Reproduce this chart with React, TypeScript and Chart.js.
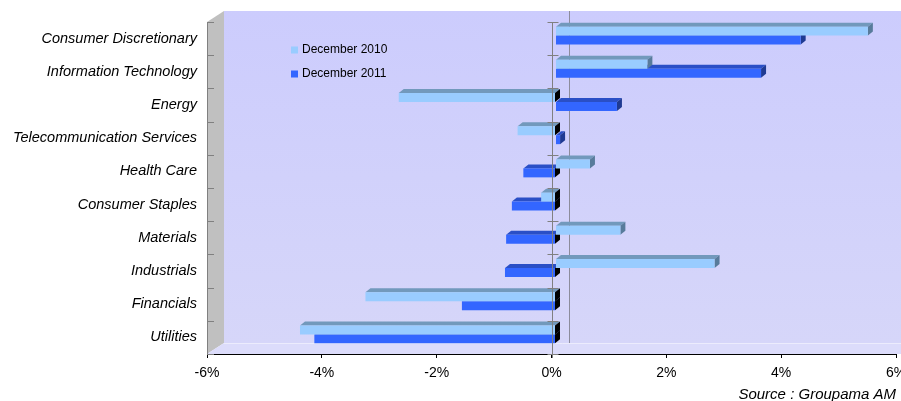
import React, { useEffect, useRef } from "react";
import { Chart, registerables } from "chart.js";

Chart.register(...registerables);

const categories = [
  "Consumer Discretionary",
  "Information Technology",
  "Energy",
  "Telecommunication Services",
  "Health Care",
  "Consumer Staples",
  "Materials",
  "Industrials",
  "Financials",
  "Utilities",
];
const seriesNames = ["December 2010", "December 2011"];
const dec2010 = [5.44, 1.6, -2.73, -0.66, 0.6, -0.25, 1.13, 2.77, -3.31, -4.45];
const dec2011 = [4.27, 3.58, 1.07, 0.08, -0.56, -0.76, -0.86, -0.88, -1.63, -4.2];
const xTickValues = [-6, -4, -2, 0, 2, 4, 6];
const sourceText = "Source : Groupama AM";

const FRONT = ["#99ccff", "#3366ff"];
const TOP = ["#7299bc", "#2a4fc6"];
const SIDE = ["#587b9b", "#1f3a92"];
const FACE = { dx: 5, dy: 4 };
const BAR_SHIFT = { x: 4, y: -3 };
const WALL = { x: 17, y: -11 };
const FONT = "Arial, 'Liberation Sans', sans-serif";

function poly(ctx: CanvasRenderingContext2D, pts: number[][], fill: string) {
  ctx.beginPath();
  ctx.moveTo(pts[0][0], pts[0][1]);
  for (let i = 1; i < pts.length; i++) ctx.lineTo(pts[i][0], pts[i][1]);
  ctx.closePath();
  ctx.fillStyle = fill;
  ctx.fill();
}

const scenePlugin = {
  id: "scene3d",
  beforeDraw(chart: any) {
    const { ctx, chartArea: a, width } = chart;
    ctx.save();
    ctx.fillStyle = "#ffffff";
    ctx.fillRect(0, 0, chart.width, chart.height);
    const bl = a.left + WALL.x;
    const bt = a.top + WALL.y;
    const bb = a.bottom + WALL.y;
    const g = ctx.createLinearGradient(0, bt, 0, bb);
    g.addColorStop(0, "#ccccfd");
    g.addColorStop(1, "#d6d6f9");
    ctx.fillStyle = g;
    ctx.fillRect(bl, bt, width - bl, bb - bt);
    poly(ctx, [[a.left, a.top], [bl, bt], [bl, bb], [a.left, a.bottom]], "#c0c0c0");
    poly(ctx, [[a.left, a.bottom], [bl, bb], [width, bb], [width, a.bottom]], "#dcdcfb");
    ctx.strokeStyle = "#ececfd";
    ctx.lineWidth = 1;
    ctx.beginPath();
    ctx.moveTo(bl, bb + 0.5);
    ctx.lineTo(width, bb + 0.5);
    ctx.stroke();
    const x0 = Math.round(chart.scales.x.getPixelForValue(0) + WALL.x) + 0.5;
    ctx.strokeStyle = "#8c8c9c";
    ctx.beginPath();
    ctx.moveTo(x0, bt);
    ctx.lineTo(x0, bb);
    ctx.stroke();
    ctx.restore();
  },
  beforeDatasetsDraw(chart: any) {
    const ctx = chart.ctx;
    ctx.save();
    ctx.translate(BAR_SHIFT.x, BAR_SHIFT.y);
    const n = chart.data.datasets.length;
    for (let di = n - 1; di >= 0; di--) {
      const ds = chart.data.datasets[di];
      const meta = chart.getDatasetMeta(di);
      meta.data.forEach((el: any, i: number) => {
        const { x, y, base, height } = el.getProps(["x", "y", "base", "height"], true);
        const v = ds.data[i];
        const yt = y - height / 2;
        const yb = y + height / 2;
        const L = Math.min(x, base);
        const R = Math.max(x, base);
        poly(ctx, [[L, yt], [L + FACE.dx, yt - FACE.dy], [R + FACE.dx, yt - FACE.dy], [R, yt]], TOP[di]);
        poly(ctx, [[R, yt], [R + FACE.dx, yt - FACE.dy], [R + FACE.dx, yb - FACE.dy], [R, yb]], v < 0 ? "#000000" : SIDE[di]);
      });
    }
  },
  afterDatasetsDraw(chart: any) {
    const { ctx, chartArea: a } = chart;
    ctx.restore();
    ctx.save();
    const ys = chart.scales.y;
    const xs = chart.scales.x;
    ctx.strokeStyle = "#808080";
    ctx.lineWidth = 1;
    const lx = a.left + 0.5;
    ctx.beginPath();
    ctx.moveTo(lx, a.top);
    ctx.lineTo(lx, a.bottom);
    ctx.stroke();
    const zx = Math.round(xs.getPixelForValue(0)) + 0.5;
    ctx.beginPath();
    ctx.moveTo(zx, a.top);
    ctx.lineTo(zx, a.bottom + 4);
    ctx.stroke();
    for (let i = 0; i <= categories.length; i++) {
      const py = Math.round(ys.getPixelForValue(i - 0.5)) + 0.5;
      ctx.beginPath();
      ctx.moveTo(a.left, py);
      ctx.lineTo(a.left + 7, py);
      ctx.moveTo(zx - 5, py);
      ctx.lineTo(zx + 6, py);
      ctx.stroke();
    }
    ctx.restore();
  },
  afterDraw(chart: any) {
    const ctx = chart.ctx;
    ctx.save();
    chart.data.datasets.forEach((ds: any, i: number) => {
      const cy = 50 + i * 24;
      ctx.fillStyle = ds.backgroundColor;
      ctx.fillRect(291, cy - 3.5, 7, 7);
      ctx.fillStyle = "#000";
      ctx.font = `12px ${FONT}`;
      ctx.textAlign = "left";
      ctx.textBaseline = "middle";
      ctx.fillText(ds.label, 302, cy);
    });
    ctx.font = `italic 15px ${FONT}`;
    ctx.textAlign = "right";
    ctx.textBaseline = "alphabetic";
    ctx.fillStyle = "#000";
    ctx.fillText(sourceText, 896, 399);
    ctx.restore();
  },
};

export default function App() {
  const ref = useRef<HTMLCanvasElement | null>(null);
  useEffect(() => {
    if (!ref.current) return;
    const chart = new Chart(ref.current, {
      type: "bar",
      data: {
        labels: categories,
        datasets: [
          { label: seriesNames[0], data: dec2010, backgroundColor: FRONT[0], borderWidth: 0 },
          { label: seriesNames[1], data: dec2011, backgroundColor: FRONT[1], borderWidth: 0 },
        ],
      },
      options: {
        indexAxis: "y",
        responsive: false,
        animation: false,
        events: [],
        layout: { padding: { top: 22, right: 5, left: 0, bottom: 0 } },
        datasets: { bar: { categoryPercentage: 0.54, barPercentage: 1 } },
        plugins: { legend: { display: false }, tooltip: { enabled: false } },
        scales: {
          x: {
            type: "linear",
            min: xTickValues[0],
            max: xTickValues[xTickValues.length - 1],
            afterBuildTicks: (s: any) => {
              s.ticks = xTickValues.map((v) => ({ value: v }));
            },
            afterFit: (s: any) => {
              s.height = 47;
              s.paddingLeft = 0;
              s.paddingRight = 0;
            },
            border: { display: true, color: "#000", width: 1 },
            grid: { drawOnChartArea: false, drawTicks: true, tickLength: 4, tickColor: "#000" },
            ticks: {
              callback: (v: any) => `${v}%`,
              color: "#000",
              padding: 7,
              maxRotation: 0,
              autoSkip: false,
              font: { family: FONT, size: 14 },
            },
          },
          y: {
            type: "category",
            afterFit: (s: any) => {
              s.width = 207;
              s.paddingTop = 0;
              s.paddingBottom = 0;
            },
            border: { display: false },
            grid: { display: false, drawTicks: false },
            ticks: {
              color: "#000",
              padding: 10,
              autoSkip: false,
              font: { family: FONT, size: 14.5, style: "italic" },
            },
          },
        },
      },
      plugins: [scenePlugin],
    } as any);
    return () => chart.destroy();
  }, []);
  return (
    <div style={{ position: "absolute", left: 0, top: 0, width: 901, height: 401 }}>
      <canvas ref={ref} width={901} height={401} style={{ display: "block" }} />
    </div>
  );
}
